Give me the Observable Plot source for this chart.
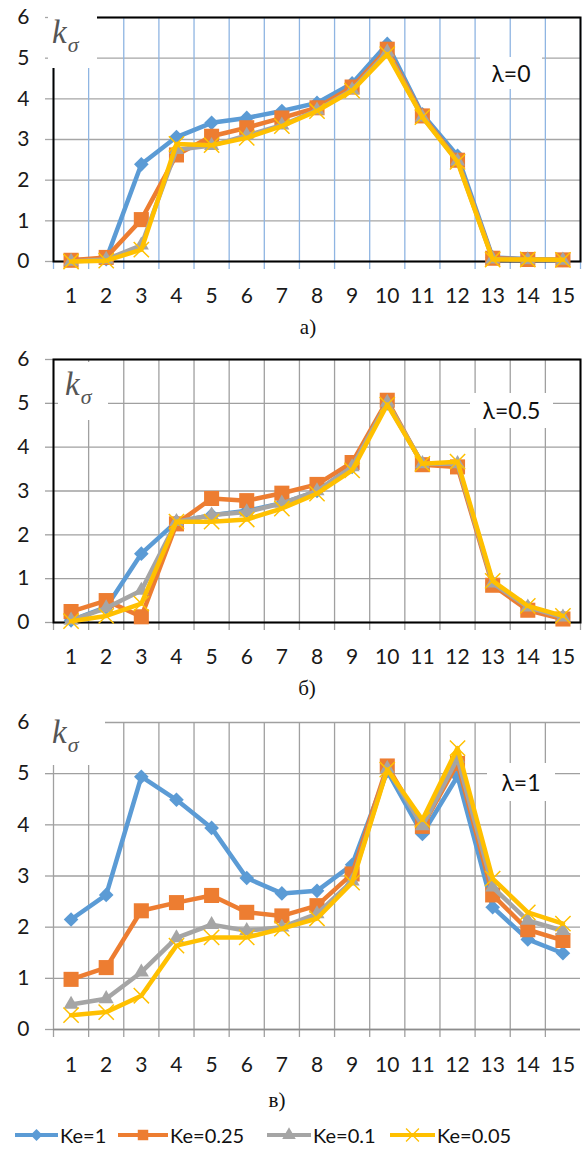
<!DOCTYPE html>
<html><head><meta charset="utf-8">
<script src="https://cdn.jsdelivr.net/npm/d3@7"></script>
<script src="https://cdn.jsdelivr.net/npm/@observablehq/plot@0.6"></script>
<style>
body{margin:0;background:#fff;}
#root{position:relative;width:582px;height:1150px;overflow:hidden;font-family:Lato,"Open Sans",sans-serif;background:#fff;}
.panel{position:absolute;left:0;}
.box{position:absolute;background:#fff;}
.kk{position:absolute;font-family:"Liberation Serif","DejaVu Serif",serif;font-style:italic;color:#555;white-space:nowrap;line-height:1;}
.kk .k{font-size:33px;}
.kk .s{font-size:22px;position:relative;top:9px;margin-left:1px;}
.lam{position:absolute;background:#fff;font-family:Lato,sans-serif;font-size:23px;color:#111;white-space:nowrap;}
.cap{position:absolute;font-family:"Liberation Serif",serif;font-size:21px;color:#111;transform:translate(-50%,-50%);white-space:nowrap;}
.leg{position:absolute;font-family:Lato,sans-serif;font-size:20px;color:#111;white-space:nowrap;transform:translateY(-50%);}
</style></head><body><div id="root"></div>
<script>
const categories = [1,2,3,4,5,6,7,8,9,10,11,12,13,14,15];
const yTicks = [0,1,2,3,4,5,6];
const seriesNames = ["Ke=1","Ke=0.25","Ke=0.1","Ke=0.05"];
const seriesColors = ["#5B9BD5","#ED7D31","#A5A5A5","#FFC000"];
const seriesSymbols = ["diamond2","square","triangle","times"];
const panelLabels = ["λ=0","λ=0.5","λ=1"];
const captions = ["а)","б)","в)"];

// λ=0
const lam0_ke1   = [0.03,0.06,2.39,3.06,3.41,3.53,3.70,3.90,4.38,5.35,3.62,2.60,0.10,0.06,0.04];
const lam0_ke025 = [0.03,0.10,1.03,2.62,3.08,3.29,3.53,3.78,4.29,5.22,3.58,2.49,0.08,0.05,0.04];
const lam0_ke01  = [0.00,0.05,0.40,2.75,2.85,3.10,3.35,3.72,4.22,5.15,3.55,2.47,0.06,0.04,0.03];
const lam0_ke005 = [0.00,0.02,0.29,2.89,2.86,3.04,3.33,3.70,4.20,5.10,3.55,2.45,0.05,0.05,0.04];
// λ=0.5
const lam05_ke1   = [0.05,0.35,1.57,2.30,2.45,2.55,2.72,3.00,3.55,5.00,3.62,3.60,0.90,0.35,0.12];
const lam05_ke025 = [0.25,0.50,0.13,2.25,2.83,2.78,2.95,3.15,3.65,5.07,3.60,3.55,0.85,0.28,0.08];
const lam05_ke01  = [0.05,0.33,0.73,2.30,2.45,2.52,2.72,3.00,3.55,5.02,3.62,3.62,0.90,0.35,0.12];
const lam05_ke005 = [0.03,0.15,0.43,2.30,2.30,2.35,2.60,2.94,3.47,4.97,3.62,3.67,0.95,0.38,0.15];
// λ=1
const lam1_ke1   = [2.15,2.63,4.94,4.49,3.94,2.96,2.66,2.71,3.22,5.05,3.82,4.95,2.39,1.76,1.49];
const lam1_ke025 = [0.98,1.21,2.32,2.48,2.62,2.29,2.22,2.42,3.04,5.15,3.97,5.20,2.63,1.95,1.74];
const lam1_ke01  = [0.49,0.60,1.12,1.79,2.05,1.93,2.00,2.26,2.90,5.10,3.98,5.30,2.78,2.13,1.93];
const lam1_ke005 = [0.28,0.34,0.66,1.64,1.80,1.80,1.97,2.17,2.87,5.08,4.10,5.50,2.95,2.29,2.07];

const panelSeries = [
  [lam0_ke1, lam0_ke025, lam0_ke01, lam0_ke005],
  [lam05_ke1, lam05_ke025, lam05_ke01, lam05_ke005],
  [lam1_ke1, lam1_ke025, lam1_ke01, lam1_ke005]
];

const root = document.getElementById("root");
const bounds = d3.range(0.5, 15.6, 1);

// layout of the three panels
const layout = [
  {top:0,   height:320, mt:17, mb:59, vGrid:"#8FB5E2", hGrid:"#A6A6A6", frame:true,  pad:27, lastBound:true,
   kBox:{l:48,t:5,w:49,h:63}, kPos:{l:52,t:16},
   lamBox:{l:480,t:57,w:62,h:32}, cap:{x:308,y:327}},
  {top:340, height:330, mt:19, mb:48, vGrid:"#A0A0A0", hGrid:"#A0A0A0", frame:true,  pad:27, lastBound:true,
   kBox:{l:58,t:362,w:50,h:58}, kPos:{l:65,t:368},
   lamBox:{l:470,t:393,w:83,h:35}, cap:{x:307,y:688}},
  {top:700, height:380, mt:22, mb:51, vGrid:"#A0A0A0", hGrid:"#A0A0A0", frame:false, pad:28, lastBound:false,
   kBox:{l:42,t:710,w:63,h:55}, kPos:{l:52,t:716},
   lamBox:{l:487,t:763,w:68,h:38}, cap:{x:277,y:1100}}
];

layout.forEach((L, p) => {
  const vb = L.lastBound ? bounds : bounds.slice(0, -1);
  const marks = [
    Plot.gridY(yTicks, {stroke: L.hGrid, strokeOpacity: 1, strokeWidth: 1.3}),
    Plot.gridX(vb, {stroke: L.vGrid, strokeOpacity: 1, strokeWidth: 1.3}),
    Plot.axisY(yTicks, {tickSize: 8, tickPadding: 16, stroke: L.hGrid, strokeWidth: 1.3, label: null, tickFormat: d => String(d)}),
    Plot.axisX(vb, {tickSize: 8, stroke: L.vGrid, strokeWidth: 1.3, label: null, tickFormat: () => ""}),
    Plot.axisX(categories, {tickSize: 0, tickPadding: L.pad, label: null, tickFormat: d => String(d)})
  ];
  if (L.frame) marks.push(Plot.frame({stroke: "#000", strokeWidth: 2}));
  else marks.push(Plot.ruleY([0], {stroke: "#8C8C8C", strokeWidth: 1.5}));
  panelSeries[p].forEach((vals, s) => {
    const rows = categories.map((c, i) => ({x: c, y: vals[i]}));
    marks.push(Plot.line(rows, {x: "x", y: "y", stroke: seriesColors[s], strokeWidth: 4.5, strokeLinejoin: "round"}));
    const sym = seriesSymbols[s];
    if (sym === "times") {
      marks.push(Plot.dot(rows, {x: "x", y: "y", symbol: sym, r: 7, stroke: seriesColors[s], strokeWidth: 1.5, fill: "none"}));
    } else {
      const r = sym === "square" ? 8.5 : sym === "diamond2" ? 6.6 : 5.6;
      marks.push(Plot.dot(rows, {x: "x", y: "y", symbol: sym, r, fill: seriesColors[s], stroke: "none"}));
    }
  });
  const chart = Plot.plot({
    width: 582, height: L.height,
    marginLeft: 53, marginRight: 2, marginTop: L.mt, marginBottom: L.mb,
    x: {domain: [0.5, 15.5], label: null},
    y: {domain: [0, 6], label: null},
    style: {fontFamily: "Lato, 'Open Sans', sans-serif", fontSize: "21px", color: "#1a1a1a", background: "transparent", overflow: "visible"},
    marks
  });
  chart.classList.add("panel");
  chart.style.top = L.top + "px";
  root.appendChild(chart);

  // k_sigma label box
  const kb = document.createElement("div");
  kb.className = "box";
  Object.assign(kb.style, {left: L.kBox.l + "px", top: L.kBox.t + "px", width: L.kBox.w + "px", height: L.kBox.h + "px"});
  root.appendChild(kb);
  const kt = document.createElement("div");
  kt.className = "kk";
  kt.innerHTML = '<span class="k">k</span><span class="s">σ</span>';
  Object.assign(kt.style, {left: L.kPos.l + "px", top: L.kPos.t + "px"});
  root.appendChild(kt);

  // lambda label
  const lb = document.createElement("div");
  lb.className = "lam";
  lb.textContent = panelLabels[p];
  Object.assign(lb.style, {left: L.lamBox.l + "px", top: L.lamBox.t + "px", width: L.lamBox.w + "px", height: L.lamBox.h + "px", lineHeight: L.lamBox.h + "px", textAlign: "center"});
  root.appendChild(lb);

  // caption
  const cp = document.createElement("div");
  cp.className = "cap";
  cp.textContent = captions[p];
  Object.assign(cp.style, {left: L.cap.x + "px", top: L.cap.y + "px"});
  root.appendChild(cp);
});

// legend
const legendPos = [{line:15, text:60}, {line:118, text:170}, {line:267, text:313}, {line:390, text:437}];
const legendY = 1135;
const symMap = {diamond2: d3.symbolDiamond2, square: d3.symbolSquare, triangle: d3.symbolTriangle, times: d3.symbolTimes};
seriesNames.forEach((name, s) => {
  const w = legendPos[s].text - legendPos[s].line - 2;
  const svg = d3.create("svg").attr("width", w).attr("height", 20)
    .style("position", "absolute").style("left", legendPos[s].line + "px").style("top", (legendY - 10) + "px");
  svg.append("line").attr("x1", 0).attr("x2", w).attr("y1", 10).attr("y2", 10)
    .attr("stroke", seriesColors[s]).attr("stroke-width", 4);
  const sym = seriesSymbols[s];
  const size = sym === "square" ? 110 : sym === "diamond2" ? 90 : sym === "triangle" ? 80 : 110;
  const path = svg.append("path").attr("d", d3.symbol(symMap[sym], size)()).attr("transform", `translate(${w/2},10)`);
  if (sym === "times") path.attr("fill", "none").attr("stroke", seriesColors[s]).attr("stroke-width", 1.3);
  else path.attr("fill", seriesColors[s]);
  root.appendChild(svg.node());
  const t = document.createElement("div");
  t.className = "leg";
  t.textContent = name;
  Object.assign(t.style, {left: legendPos[s].text + "px", top: legendY + "px"});
  root.appendChild(t);
});
</script>
</body></html>
